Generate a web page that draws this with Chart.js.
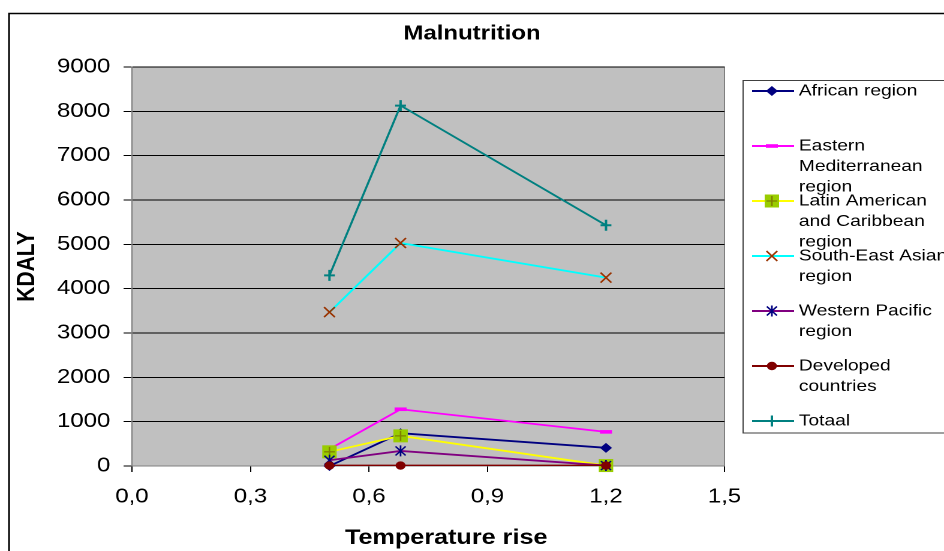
<!DOCTYPE html>
<html><head><meta charset="utf-8">
<script src="https://cdn.jsdelivr.net/npm/chart.js@4.4.1/dist/chart.umd.min.js"></script>
<style>
html,body{margin:0;padding:0;background:#fff;overflow:hidden;width:944px;height:551px}
#wrap{position:absolute;left:0;top:0;width:787px;height:551px;transform:scaleX(1.19949);transform-origin:0 0}
</style></head><body>
<div id="wrap"><canvas id="c"></canvas></div>
<script>
// ---- data ----
const temperatureRise = [0.5, 0.68, 1.2];
const seriesNames = ['African region', 'Eastern Mediterranean region', 'Latin American and Caribbean region',
  'South-East Asian region', 'Western Pacific region', 'Developed countries', 'Totaal'];
const african = [0, 740, 410];
const easternMediterranean = [380, 1280, 770];
const latinAmerica = [320, 680, 10];
const southEastAsia = [3470, 5030, 4250];
const westernPacific = [130, 340, 10];
const developedCountries = [10, 10, 10];
const totaal = [4300, 8130, 5430];
const xTickLabels = ['0,0', '0,3', '0,6', '0,9', '1,2', '1,5'];
const yTickLabels = ['0', '1000', '2000', '3000', '4000', '5000', '6000', '7000', '8000', '9000'];
const chartTitle = 'Malnutrition';
const xAxisTitle = 'Temperature rise';
const yAxisTitle = 'KDALY';

const seriesValues = [african, easternMediterranean, latinAmerica, southEastAsia, westernPacific, developedCountries, totaal];

// ---- styles ----
const FONT = 'Arial, "Liberation Sans", sans-serif';
const lineColors = ['#000080', '#FF00FF', '#FFFF00', '#00FFFF', '#800080', '#800000', '#008080'];
const markerKinds = ['diamond', 'dash', 'squarePlus', 'x', 'star', 'circle', 'plus'];

function drawMarker(ctx, kind, x, y) {
  ctx.save();
  ctx.lineCap = 'butt';
  ctx.beginPath();
  switch (kind) {
    case 'diamond':
      ctx.fillStyle = '#000080';
      ctx.moveTo(x, y - 5); ctx.lineTo(x + 5, y); ctx.lineTo(x, y + 5); ctx.lineTo(x - 5, y); ctx.closePath();
      ctx.fill(); break;
    case 'dash':
      ctx.fillStyle = '#FF00FF';
      ctx.fillRect(x - 5, y - 1.8, 10, 3.6); break;
    case 'squarePlus':
      ctx.fillStyle = '#99CC00';
      ctx.fillRect(x - 6, y - 6.5, 12, 13);
      ctx.strokeStyle = '#808000'; ctx.lineWidth = 1.3;
      ctx.moveTo(x - 4.5, y); ctx.lineTo(x + 4.5, y); ctx.moveTo(x, y - 5); ctx.lineTo(x, y + 5);
      ctx.stroke(); break;
    case 'x':
      ctx.strokeStyle = '#993300'; ctx.lineWidth = 1.5;
      ctx.moveTo(x - 4.5, y - 5); ctx.lineTo(x + 4.5, y + 5); ctx.moveTo(x + 4.5, y - 5); ctx.lineTo(x - 4.5, y + 5);
      ctx.stroke(); break;
    case 'star':
      ctx.strokeStyle = '#000080'; ctx.lineWidth = 1.4;
      ctx.moveTo(x, y - 5.5); ctx.lineTo(x, y + 5.5);
      ctx.moveTo(x - 4.2, y - 4.5); ctx.lineTo(x + 4.2, y + 4.5);
      ctx.moveTo(x + 4.2, y - 4.5); ctx.lineTo(x - 4.2, y + 4.5);
      ctx.stroke(); break;
    case 'circle':
      ctx.fillStyle = '#800000';
      ctx.arc(x, y, 4.2, 0, Math.PI * 2); ctx.fill(); break;
    case 'plus':
      ctx.strokeStyle = '#008080'; ctx.lineWidth = 2;
      ctx.moveTo(x - 4.5, y); ctx.lineTo(x + 4.5, y); ctx.moveTo(x, y - 5.5); ctx.lineTo(x, y + 5.5);
      ctx.stroke(); break;
  }
  ctx.restore();
}

function wrapText(ctx, text, maxW) {
  const words = text.split(' ');
  const lines = [];
  let cur = '';
  for (const w of words) {
    const test = cur ? cur + ' ' + w : w;
    if (cur && ctx.measureText(test).width > maxW) { lines.push(cur); cur = w; }
    else cur = test;
  }
  if (cur) lines.push(cur);
  return lines;
}

const backgroundPlugin = {
  id: 'bg',
  beforeDraw(chart) {
    const ctx = chart.ctx, a = chart.chartArea;
    ctx.save();
    ctx.fillStyle = '#fff';
    ctx.fillRect(0, 0, chart.width, chart.height);
    ctx.fillStyle = '#C0C0C0';
    ctx.fillRect(a.left, a.top, a.right - a.left, a.bottom - a.top);
    ctx.strokeStyle = '#808080'; ctx.lineWidth = 1;
    ctx.strokeRect(a.left, a.top, a.right - a.left, a.bottom - a.top);
    // outer chart frame
    ctx.strokeStyle = '#000'; ctx.lineWidth = 1.5;
    ctx.strokeRect(7.5, 13.5, chart.width + 50, chart.height + 50);
    ctx.restore();
  }
};

const markerPlugin = {
  id: 'markers',
  afterDatasetDraw(chart, args) {
    const ctx = chart.ctx;
    args.meta.data.forEach(pt => drawMarker(ctx, markerKinds[args.index], pt.x, pt.y));
  }
};

const legendPlugin = {
  id: 'customLegend',
  afterDraw(chart) {
    const ctx = chart.ctx;
    ctx.save();
    // x-axis title (slightly right of plot centre, as in the original)
    ctx.font = 'bold 21px ' + FONT;
    ctx.fillStyle = '#000';
    ctx.textAlign = 'center';
    ctx.textBaseline = 'middle';
    ctx.fillText(xAxisTitle, 372, 538);
    // legend
    ctx.fillStyle = '#fff';
    ctx.fillRect(619.5, 80.5, 300, 352.5);
    ctx.strokeStyle = '#404040'; ctx.lineWidth = 1;
    ctx.strokeRect(619.5, 80.5, 300, 352.5);
    ctx.font = '16px ' + FONT;
    ctx.textBaseline = 'middle';
    ctx.textAlign = 'left';
    chart.data.datasets.forEach((ds, i) => {
      const y0 = 91 + i * 55;
      ctx.strokeStyle = ds.borderColor; ctx.lineWidth = 2;
      ctx.beginPath(); ctx.moveTo(627, y0); ctx.lineTo(662, y0); ctx.stroke();
      drawMarker(ctx, markerKinds[i], 643.5, y0);
      ctx.fillStyle = '#000';
      wrapText(ctx, ds.label, 130).forEach((ln, k) => ctx.fillText(ln, 666, y0 + k * 20.5));
    });
    ctx.restore();
  }
};

new Chart(document.getElementById('c'), {
  type: 'line',
  data: {
    datasets: seriesValues.map((vals, i) => ({
      label: seriesNames[i],
      data: temperatureRise.map((x, j) => ({ x: x, y: vals[j] })),
      borderColor: lineColors[i],
      backgroundColor: lineColors[i],
      borderWidth: 1.8,
      pointRadius: 0,
      pointHoverRadius: 0,
      fill: false,
      tension: 0,
      order: 10 - i
    }))
  },
  options: {
    responsive: true,
    maintainAspectRatio: false,
    animation: false,
    devicePixelRatio: 2,
    events: [],
    layout: { padding: { left: 0, right: 0, top: 0, bottom: 0 } },
    plugins: {
      legend: { display: false },
      tooltip: { enabled: false },
      title: {
        display: true, text: chartTitle, color: '#000',
        font: { family: FONT, size: 20, weight: 'bold' },
        padding: { top: 22, bottom: 21 }
      }
    },
    scales: {
      x: {
        type: 'linear', min: 0, max: 1.5,
        ticks: {
          stepSize: 0.3, color: '#000', font: { family: FONT, size: 20 }, padding: 13,
          maxRotation: 0, autoSkip: false,
          callback: v => xTickLabels[Math.round(v / 0.3)]
        },
        grid: { color: 'rgba(0,0,0,0)', tickColor: '#000', tickLength: 6, drawOnChartArea: false },
        border: { color: '#808080', width: 1 },
        title: { display: false },
        afterFit: s => { s.height = 85; }
      },
      y: {
        min: 0, max: 9000,
        ticks: {
          stepSize: 1000, color: '#000', font: { family: FONT, size: 20 }, padding: 11,
          callback: (v, i) => yTickLabels[i]
        },
        grid: { color: '#000', tickColor: '#000', tickLength: 7, lineWidth: 1 },
        border: { color: '#808080', width: 1 },
        title: {
          display: true, text: yAxisTitle, color: '#000',
          font: { family: FONT, size: 21, weight: 'bold' }, padding: { top: 10, bottom: 0 }
        },
        afterFit: s => { s.width = 110; }
      },
      legendSpace: {
        type: 'linear', position: 'right', display: true,
        grid: { display: false, drawTicks: false },
        border: { display: false },
        ticks: { display: false },
        afterFit: s => { s.width = 183; }
      }
    }
  },
  plugins: [backgroundPlugin, markerPlugin, legendPlugin]
});
</script>
</body></html>
